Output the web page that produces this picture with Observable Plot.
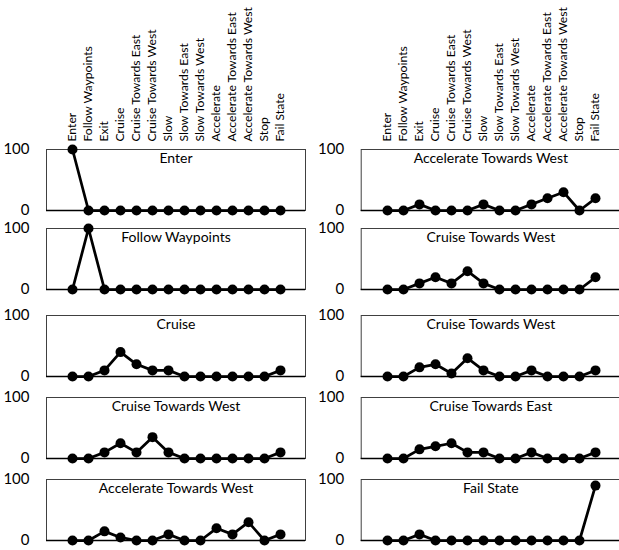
<!DOCTYPE html>
<html><head><meta charset="utf-8">
<script src="https://cdn.jsdelivr.net/npm/d3@7"></script>
<script src="https://cdn.jsdelivr.net/npm/@observablehq/plot@0.6"></script>
<style>
html,body{margin:0;padding:0;background:#fff;}
#chart{position:relative;width:619px;height:550px;overflow:hidden;background:#fff;}
#chart svg{position:absolute;}
</style></head><body><div id="chart"></div>
<script>
const categories = ["Enter","Follow Waypoints","Exit","Cruise","Cruise Towards East","Cruise Towards West","Slow","Slow Towards East","Slow Towards West","Accelerate","Accelerate Towards East","Accelerate Towards West","Stop","Fail State"];
const yTicks = [0, 100];

const leftTitles = ["Enter","Follow Waypoints","Cruise","Cruise Towards West","Accelerate Towards West"];
const rightTitles = ["Accelerate Towards West","Cruise Towards West","Cruise Towards West","Cruise Towards East","Fail State"];

const left1 = [100,0,0,0,0,0,0,0,0,0,0,0,0,0];
const left2 = [0,100,0,0,0,0,0,0,0,0,0,0,0,0];
const left3 = [0,0,10,40,20,10,10,0,0,0,0,0,0,10];
const left4 = [0,0,10,25,10,35,10,0,0,0,0,0,0,10];
const left5 = [0,0,15,5,0,0,10,0,0,20,10,30,0,10];

const right1 = [0,0,10,0,0,0,10,0,0,10,20,30,0,20];
const right2 = [0,0,10,20,10,30,10,0,0,0,0,0,0,20];
const right3 = [0,0,15,20,5,30,10,0,0,10,0,0,0,10];
const right4 = [0,0,15,20,25,10,10,0,0,10,0,0,0,10];
const right5 = [0,0,10,0,0,0,0,0,0,0,0,0,0,90];

const leftSeries = [left1,left2,left3,left4,left5];
const rightSeries = [right1,right2,right3,right4,right5];

// layout
const panelTops = [149, 228, 315, 397, 479];
const panelH = 61;
const columns = [
  {titles: leftTitles, series: leftSeries, svgLeft: 0, width: 310, marginLeft: 46, marginRight: 5, range: [63.3, 289.3]},
  {titles: rightTitles, series: rightSeries, svgLeft: 320, width: 300, marginLeft: 40.7, marginRight: 0, range: [58.3, 283.3]}
];
const font = "Lato, 'Open Sans', sans-serif";
const chart = document.getElementById("chart");

for (const col of columns) {
  col.series.forEach((values, i) => {
    const data = categories.map((c, k) => ({cat: c, value: values[k]}));
    const mt = i === 0 ? panelTops[0] : 10;
    const mb = 10;
    const marks = [
      Plot.frame({stroke: "#404040", strokeWidth: 1}),
      Plot.ruleY([0], {stroke: "#000", strokeWidth: 1.5}),
      Plot.axisY({ticks: yTicks, tickSize: 0, tickPadding: 17, fontSize: 15, label: null}),
      Plot.line(data, {x: "cat", y: "value", stroke: "#000", strokeWidth: 2.75}),
      Plot.dot(data, {x: "cat", y: "value", r: 5, fill: "#000", stroke: "none"}),
      Plot.text([col.titles[i]], {text: d => d, frameAnchor: "top", lineAnchor: "top", dy: 4, fontSize: 14, fill: "#000"})
    ];
    if (i === 0) marks.push(Plot.axisX({anchor: "top", tickRotate: -90, tickSize: 0, tickPadding: 8, fontSize: 12.2, label: null}));
    const svg = Plot.plot({
      width: col.width,
      height: mt + panelH + mb,
      marginLeft: col.marginLeft,
      marginRight: col.marginRight,
      marginTop: mt,
      marginBottom: mb,
      style: {fontFamily: font, background: "transparent", overflow: "visible", color: "#000"},
      x: {type: "point", domain: categories, range: col.range, axis: i === 0 ? undefined : null},
      y: {domain: [0, 100], axis: undefined},
      marks
    });
    svg.style.left = col.svgLeft + "px";
    svg.style.top = (panelTops[i] - mt) + "px";
    chart.appendChild(svg);
  });
}
</script>
</body></html>
